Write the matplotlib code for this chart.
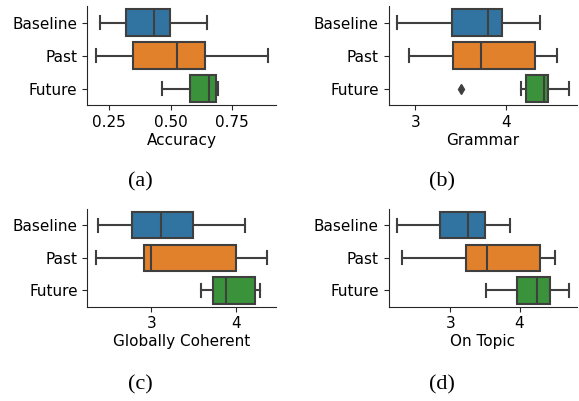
import matplotlib
matplotlib.use('Agg')
import matplotlib.pyplot as plt

groups = ['Baseline', 'Past', 'Future']
colors = ['#3274a1', '#e1812c', '#3a923a']
line_col = '#3f3f3f'

# five-number summaries per group: (whislo, q1, med, q3, whishi)
accuracy = [(0.216, 0.319, 0.433, 0.496, 0.647),
            (0.197, 0.348, 0.527, 0.640, 0.893),
            (0.465, 0.579, 0.656, 0.685, 0.693)]
accuracy_fliers = [[], [], []]

grammar = [(2.80, 3.405, 3.797, 3.956, 4.371),
           (2.934, 3.415, 3.724, 4.325, 4.564),
           (4.165, 4.224, 4.422, 4.463, 4.690)]
grammar_fliers = [[], [], [3.507]]

coherent = [(2.367, 2.776, 3.115, 3.496, 4.106),
            (2.348, 2.906, 3.0, 4.0, 4.362),
            (3.583, 3.725, 3.874, 4.217, 4.280)]
coherent_fliers = [[], [], []]

topic = [(2.230, 2.856, 3.260, 3.505, 3.856),
         (2.303, 3.226, 3.538, 4.298, 4.519),
         (3.519, 3.962, 4.250, 4.433, 4.707)]
topic_fliers = [[], [], []]

panels = [
    ('Accuracy', accuracy, accuracy_fliers, (0.161, 0.928), [0.25, 0.50, 0.75], ['0.25', '0.50', '0.75'], '(a)'),
    ('Grammar', grammar, grammar_fliers, (2.706, 4.786), [3, 4], ['3', '4'], '(b)'),
    ('Globally Coherent', coherent, coherent_fliers, (2.244, 4.472), [3, 4], ['3', '4'], '(c)'),
    ('On Topic', topic, topic_fliers, (2.110, 4.833), [3, 4], ['3', '4'], '(d)'),
]

fig = plt.figure(figsize=(5.79, 4.01), dpi=100)
rects = [[0.150, 0.738, 0.327, 0.247],
         [0.671, 0.738, 0.326, 0.247],
         [0.151, 0.235, 0.326, 0.244],
         [0.671, 0.235, 0.326, 0.244]]
cap_pos = [(140, 182), (442, 182), (140, 385), (442, 385)]

for rect, (label, summ, fl, xlim, ticks, tlabels, cap), cp in zip(rects, panels, cap_pos):
    ax = fig.add_axes(rect)
    stats = []
    for g, s, f in zip(groups, summ, fl):
        stats.append(dict(label=g, whislo=s[0], q1=s[1], med=s[2], q3=s[3], whishi=s[4], fliers=f))
    pos = [0, 1, 2]
    bp = ax.bxp(stats, positions=pos, vert=False, widths=0.8, patch_artist=True,
                capwidths=0.4,
                boxprops=dict(edgecolor=line_col, linewidth=1.5),
                medianprops=dict(color=line_col, linewidth=1.5),
                whiskerprops=dict(color=line_col, linewidth=1.5),
                capprops=dict(color=line_col, linewidth=1.5),
                flierprops=dict(marker='d', markerfacecolor=line_col, markeredgecolor=line_col,
                                markersize=5))
    for patch, c in zip(bp['boxes'], colors):
        patch.set_facecolor(c)
    ax.set_ylim(2.5, -0.5)
    ax.set_yticks(pos)
    ax.set_yticklabels(groups)
    ax.set_xlim(*xlim)
    ax.set_xticks(ticks)
    ax.set_xticklabels(tlabels)
    ax.set_xlabel(label, fontsize=11, labelpad=2)
    ax.tick_params(labelsize=11, length=3.5, color='#262626')
    for sp in ['top', 'right']:
        ax.spines[sp].set_visible(False)
    for sp in ['left', 'bottom']:
        ax.spines[sp].set_color('#262626')
    fig.text(cp[0] / 579, 1 - cp[1] / 401, cap, ha='center', va='center',
             family='Liberation Serif', fontsize=16)

fig.savefig('out.png', dpi=100)
